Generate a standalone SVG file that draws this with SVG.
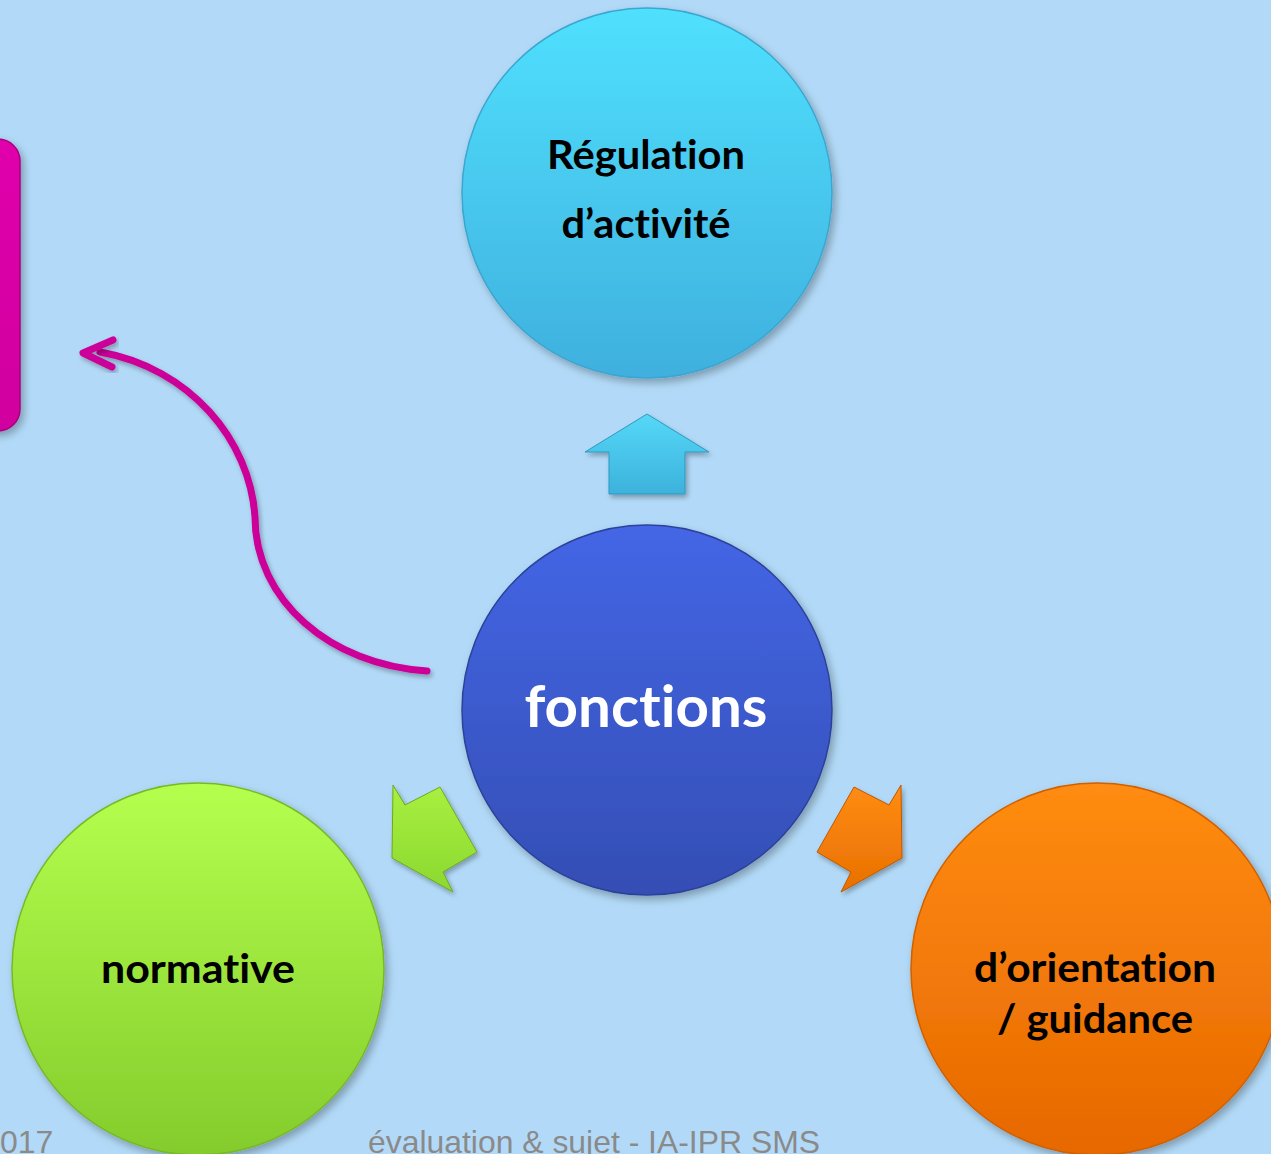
<svg xmlns="http://www.w3.org/2000/svg" width="1271" height="1154" viewBox="0 0 1271 1154">
<style>
.lbl{font-family:Lato,"Open Sans","Liberation Sans",sans-serif;font-weight:bold;text-anchor:middle;fill:#000;font-variant-ligatures:none;font-feature-settings:"liga" 0,"clig" 0}
.white{fill:#fff}
.foot{font-family:"Liberation Sans",Arial,sans-serif;font-size:32px;fill:#8a8a8a}
.conn{fill:none;stroke:#CC0099;stroke-width:7;stroke-linecap:round;stroke-linejoin:round}
</style>
<defs>
<filter id="sh" x="-20%" y="-20%" width="140%" height="140%">
<feDropShadow dx="3" dy="4" stdDeviation="4" flood-color="#000" flood-opacity="0.3"/>
</filter>
<filter id="sh2" x="-20%" y="-20%" width="140%" height="140%">
<feDropShadow dx="2" dy="3" stdDeviation="2.5" flood-color="#000" flood-opacity="0.3"/>
</filter>
<linearGradient id="gCyan" x1="0" y1="0" x2="0" y2="1"><stop offset="0" stop-color="#50E0FE"/><stop offset="1" stop-color="#3FB0DE"/></linearGradient>
<linearGradient id="gBlue" x1="0" y1="0" x2="0" y2="1"><stop offset="0" stop-color="#4466E6"/><stop offset="1" stop-color="#344EB4"/></linearGradient>
<linearGradient id="gGreen" x1="0" y1="0" x2="0" y2="1"><stop offset="0" stop-color="#B4FF4E"/><stop offset="1" stop-color="#84CC2C"/></linearGradient>
<linearGradient id="gOrange" x1="0" y1="0" x2="0" y2="1"><stop offset="0" stop-color="#FF8C12"/><stop offset="1" stop-color="#E66800"/></linearGradient>
<linearGradient id="gMag" x1="0" y1="0" x2="0" y2="1"><stop offset="0" stop-color="#E000AC"/><stop offset="1" stop-color="#D0009E"/></linearGradient>
<linearGradient id="gAUp" x1="0" y1="0" x2="0" y2="1"><stop offset="0" stop-color="#55D8F8"/><stop offset="1" stop-color="#3CB2DC"/></linearGradient>
<linearGradient id="gAGreen" x1="0" y1="0" x2="0" y2="1"><stop offset="0" stop-color="#A8F040"/><stop offset="1" stop-color="#8CD830"/></linearGradient>
<linearGradient id="gAOrange" x1="0" y1="0" x2="0" y2="1"><stop offset="0" stop-color="#FF8C14"/><stop offset="1" stop-color="#E87000"/></linearGradient>
</defs>
<rect x="0" y="0" width="1271" height="1154" fill="#B2DAF8"/>

<g id="footer">
<text class="foot" x="0" y="1153">017</text>
<text class="foot" x="368" y="1153" textLength="452" lengthAdjust="spacingAndGlyphs">évaluation &amp; sujet - IA-IPR SMS</text>
</g>

<g id="box-left" filter="url(#sh)">
<rect x="-40" y="139" width="60" height="292" rx="22" fill="url(#gMag)" stroke="#A8007F" stroke-width="1.5"/>
</g>

<g id="connectors">
<path class="conn" filter="url(#sh2)" d="M427,671 C330,665 255,600 255,517 C250,440 190,368 100,352"/>
<polyline class="conn" filter="url(#sh2)" points="113,340 83,353 112,367"/>
<polygon id="arrow-up" filter="url(#sh2)" points="647,414 709,452 685,452 685,494 609,494 609,452 585,452" fill="url(#gAUp)" stroke="#2E98C0" stroke-width="1"/>
<polygon id="arrow-green" filter="url(#sh2)" points="393,785 405,805 440,787 477,852 443,872 453,892 392,858" fill="url(#gAGreen)" stroke="#6EA820" stroke-width="1"/>
<polygon id="arrow-orange" filter="url(#sh2)" points="901,785 889,805 854,787 817,852 851,872 841,892 902,858" fill="url(#gAOrange)" stroke="#C05800" stroke-width="1"/>
</g>

<g id="node-regulation">
<circle cx="647" cy="193" r="185" fill="url(#gCyan)" stroke="#3AA6D0" stroke-width="1.5" filter="url(#sh)"/>
<text class="lbl" x="646" y="169" font-size="41" textLength="198" lengthAdjust="spacingAndGlyphs">Régulation</text>
<text class="lbl" x="646" y="238" font-size="41" textLength="169" lengthAdjust="spacingAndGlyphs">d’activité</text>
</g>

<g id="node-fonctions">
<circle cx="647" cy="710" r="185" fill="url(#gBlue)" stroke="#2C4299" stroke-width="1.5" filter="url(#sh)"/>
<text class="lbl white" x="646" y="727" font-size="58" textLength="243" lengthAdjust="spacingAndGlyphs">fonctions</text>
</g>

<g id="node-normative">
<circle cx="198" cy="969" r="186" fill="url(#gGreen)" stroke="#78B828" stroke-width="1.5" filter="url(#sh)"/>
<text class="lbl" x="198" y="983" font-size="41" textLength="194" lengthAdjust="spacingAndGlyphs">normative</text>
</g>

<g id="node-orientation">
<circle cx="1097" cy="969" r="186" fill="url(#gOrange)" stroke="#D06000" stroke-width="1.5" filter="url(#sh)"/>
<text class="lbl" x="1095" y="982" font-size="41" textLength="242" lengthAdjust="spacingAndGlyphs">d’orientation</text>
<text class="lbl" x="1095" y="1033" font-size="41" textLength="196" lengthAdjust="spacingAndGlyphs">/ guidance</text>
</g>
</svg>
